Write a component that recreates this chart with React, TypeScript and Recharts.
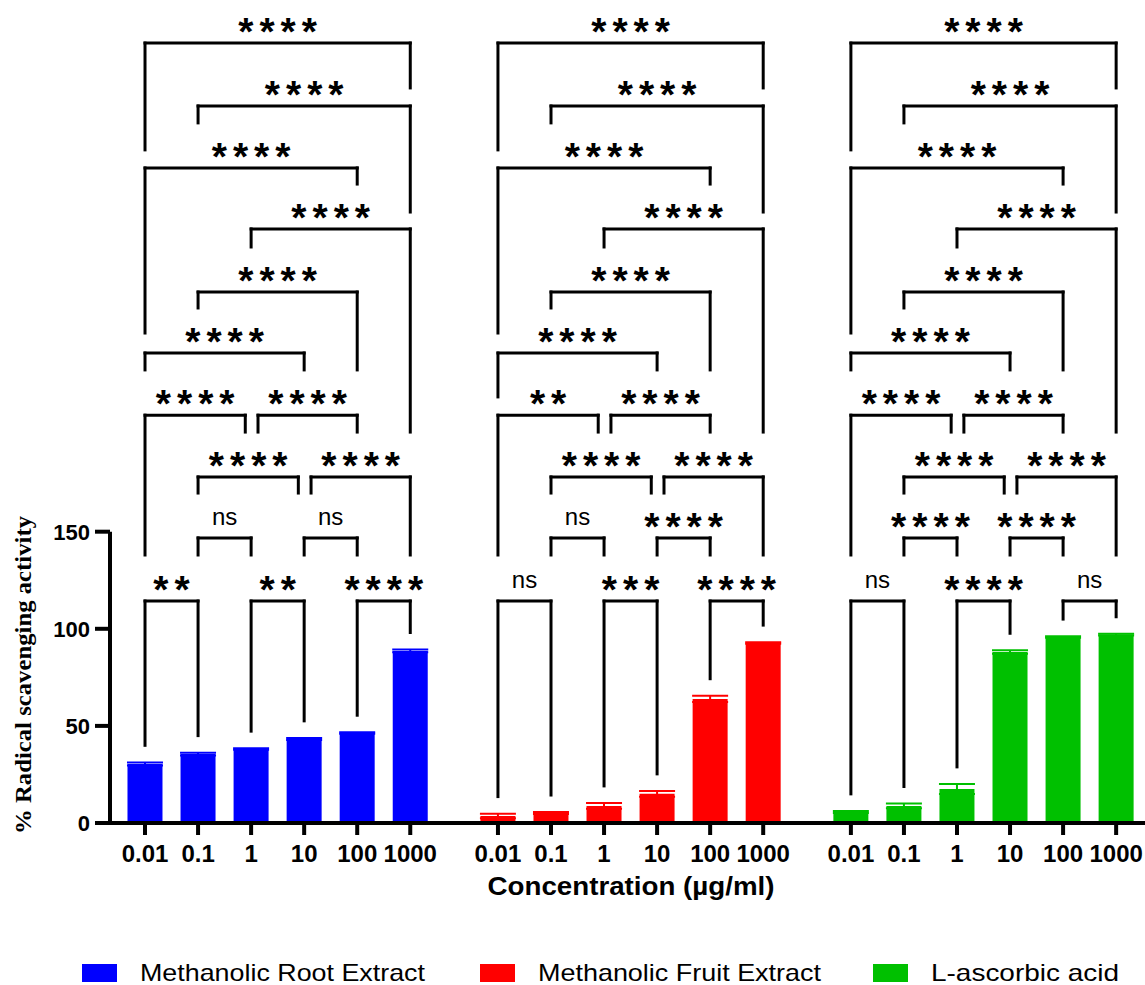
import React from 'react'
import { BarChart, Bar, XAxis, YAxis, ErrorBar, ReferenceLine } from 'recharts'

const concentrations = ['0.01', '0.1', '1', '10', '100', '1000']
const extracts = ['Methanolic Root Extract', 'Methanolic Fruit Extract', 'L-ascorbic acid']
const colors = ['#0000ff', '#ff0000', '#00c000']
const keys = ['root', 'fruit', 'acid']

const rootMean = [30.4, 35.5, 38.1, 43.3, 46.3, 88.6]
const rootSd = [0.8, 0.7, 0.4, 0.5, 0.4, 0.7]
const fruitMean = [3.6, 5.1, 8.8, 15.0, 63.9, 92.7]
const fruitSd = [1.2, 0.5, 1.5, 1.5, 1.6, 0.4]
const acidMean = [5.7, 8.8, 17.5, 88.0, 95.8, 97.0]
const acidSd = [0.5, 1.2, 2.6, 0.9, 0.4, 0.4]

const yTicks = [0, 50, 100, 150]

// pairwise comparisons: [from bar, to bar, bracket level]
const comparisons: [number, number, number][] = [
  [0, 1, 0], [2, 3, 0], [4, 5, 0],
  [1, 2, 1], [3, 4, 1],
  [1, 3, 2], [3, 5, 2],
  [0, 2, 3], [2, 4, 3],
  [0, 3, 4], [1, 4, 5], [2, 5, 6], [0, 4, 7], [1, 5, 8], [0, 5, 9],
]
const rootSig = ['**', '**', '****', 'ns', 'ns', '****', '****', '****', '****', '****', '****', '****', '****', '****', '****']
const fruitSig = ['ns', '***', '****', 'ns', '****', '****', '****', '**', '****', '****', '****', '****', '****', '****', '****']
const acidSig = ['ns', '****', 'ns', '****', '****', '****', '****', '****', '****', '****', '****', '****', '****', '****', '****']

// bracket heights and where their legs stop (% units)
const levels = [114.3, 146.8, 178.2, 210, 242, 273.4, 305.9, 337.3, 369.2, 401.6]
const legEnds: (number | null)[][] = [
  [null, null], [null, null], [null, null],
  [138, 138], [138, 138],
  [169.9, 169.9], [169.9, 138],
  [138, 201.3], [201.3, 201.3],
  [233.3, 233.3], [265.2, 233.3], [296.6, 201.3], [252.3, 329], [360.5, 314.6], [346.6, 378.5],
]
const fruitLegEnds03 = [219.4, 233.3]

const groups = [
  { mean: rootMean, sd: rootSd, sig: rootSig },
  { mean: fruitMean, sd: fruitSd, sig: fruitSig },
  { mean: acidMean, sd: acidSd, sig: acidSig },
]

const stride = 6.653
const pos = (g: number, i: number) => g * stride + i
const xMin = -0.66
const xMax = 18.85

const data = groups.flatMap((grp, g) =>
  concentrations.map((c, i) => {
    const row: any = { x: pos(g, i), label: c }
    row[keys[g]] = grp.mean[i]
    row[keys[g] + 'Sd'] = grp.sd[i]
    return row
  })
)
const xTicks = data.map((d) => d.x)

const FONT = 'Liberation Sans, Arial, sans-serif'

const sigLabel = (text: string) => (p: any) => {
  const vb = p.viewBox || {}
  const cx = vb.x + vb.width / 2
  const y = vb.y
  if (text === 'ns') {
    return (
      <text x={cx} y={y - 13} textAnchor="middle" fontSize={24} fontFamily={FONT} fill="#000">
        {text}
      </text>
    )
  }
  return (
    <text x={cx + 3} y={y + 2} textAnchor="middle" fontSize={39} fontWeight={700} letterSpacing={6} fontFamily={FONT} fill="#000">
      {text}
    </text>
  )
}

const App = () => {
  const lines: React.ReactNode[] = []
  groups.forEach((grp, g) => {
    comparisons.forEach(([a, b, lv], k) => {
      const sameRow = comparisons.filter((c) => c[2] === lv)
      const x1 = pos(g, a) + (sameRow.some((c) => c[1] === a) ? 0.13 : 0)
      const x2 = pos(g, b) - (sameRow.some((c) => c[0] === b) ? 0.11 : 0)
      const y = levels[lv]
      const ends = g === 1 && k === 9 ? fruitLegEnds03 : legEnds[k]
      const e1 = ends[0] ?? grp.mean[a] + grp.sd[a] + 8.8
      const e2 = ends[1] ?? grp.mean[b] + grp.sd[b] + 8.8
      const common = { stroke: '#000', strokeWidth: 3, ifOverflow: 'visible' as const, strokeLinecap: 'square' as any }
      lines.push(
        <ReferenceLine key={`h${g}-${k}`} segment={[{ x: x1, y }, { x: x2, y }]} {...common} label={{ content: sigLabel(grp.sig[k]) }} />,
        <ReferenceLine key={`l${g}-${k}`} segment={[{ x: x1, y }, { x: x1, y: e1 }]} {...common} />,
        <ReferenceLine key={`r${g}-${k}`} segment={[{ x: x2, y }, { x: x2, y: e2 }]} {...common} />
      )
    })
  })

  return (
    <div style={{ position: 'absolute', left: 0, top: 0, width: 1145, height: 985, background: '#fff' }}>
      <BarChart
        width={1145}
        height={940}
        data={data}
        margin={{ top: 12, right: 0, bottom: 57, left: 0 }}
        barSize={35}
        barGap={-35}
      >
        <XAxis
          type="number"
          dataKey="x"
          domain={[xMin, xMax]}
          allowDataOverflow
          ticks={xTicks}
          interval={0}
          height={60}
          tickFormatter={(v: number) => {
            const d = data.find((r) => Math.abs(r.x - v) < 0.01)
            return d ? d.label : ''
          }}
          axisLine={{ stroke: '#000', strokeWidth: 4 }}
          tickLine={{ stroke: '#000', strokeWidth: 4 }}
          tickSize={12}
          tickMargin={10}
          tick={{ fill: '#000', fontSize: 24, fontWeight: 700, fontFamily: FONT }}
        />
        <YAxis
          type="number"
          domain={[0, 417.6]}
          allowDataOverflow
          ticks={yTicks}
          interval={0}
          width={110}
          axisLine={false}
          tickLine={{ stroke: '#000', strokeWidth: 4 }}
          tickSize={15}
          tickMargin={5}
          tick={{ fill: '#000', fontSize: 22, fontWeight: 700, fontFamily: FONT }}
        />
        <ReferenceLine
          segment={[{ x: xMin, y: 0 }, { x: xMin, y: 150 }]}
          stroke="#000"
          strokeWidth={4}
          ifOverflow="visible"
        />
        {keys.map((k, g) => (
          <Bar key={k} dataKey={k} fill={colors[g]} isAnimationActive={false}>
            <ErrorBar dataKey={k + 'Sd'} width={18} stroke={colors[g]} strokeWidth={2} />
          </Bar>
        ))}
        {lines}
      </BarChart>
      <svg width={1145} height={985} style={{ position: 'absolute', left: 0, top: 0, pointerEvents: 'none' }}>
        <text
          x={31}
          y={675}
          transform="rotate(-90, 31, 675)"
          textAnchor="middle"
          fontFamily="Liberation Serif, Times New Roman, serif"
          fontWeight={700}
          fontSize={24}
          textLength={318}
          lengthAdjust="spacingAndGlyphs"
          fill="#000"
        >
          % Radical scavenging activity
        </text>
        <text
          x={631}
          y={895}
          textAnchor="middle"
          fontFamily={FONT}
          fontWeight={700}
          fontSize={25}
          textLength={287}
          lengthAdjust="spacingAndGlyphs"
          fill="#000"
        >
          Concentration (µg/ml)
        </text>
        {extracts.map((name, g) => {
          const left = [82, 480, 873][g]
          const widths = [285, 283, 188]
          return (
            <g key={name}>
              <rect x={left} y={964} width={35} height={18} fill={colors[g]} />
              <text
                x={left + 58}
                y={981}
                fontFamily={FONT}
                fontSize={24}
                textLength={widths[g]}
                lengthAdjust="spacingAndGlyphs"
                fill="#000"
              >
                {name}
              </text>
            </g>
          )
        })}
      </svg>
    </div>
  )
}

export default App
